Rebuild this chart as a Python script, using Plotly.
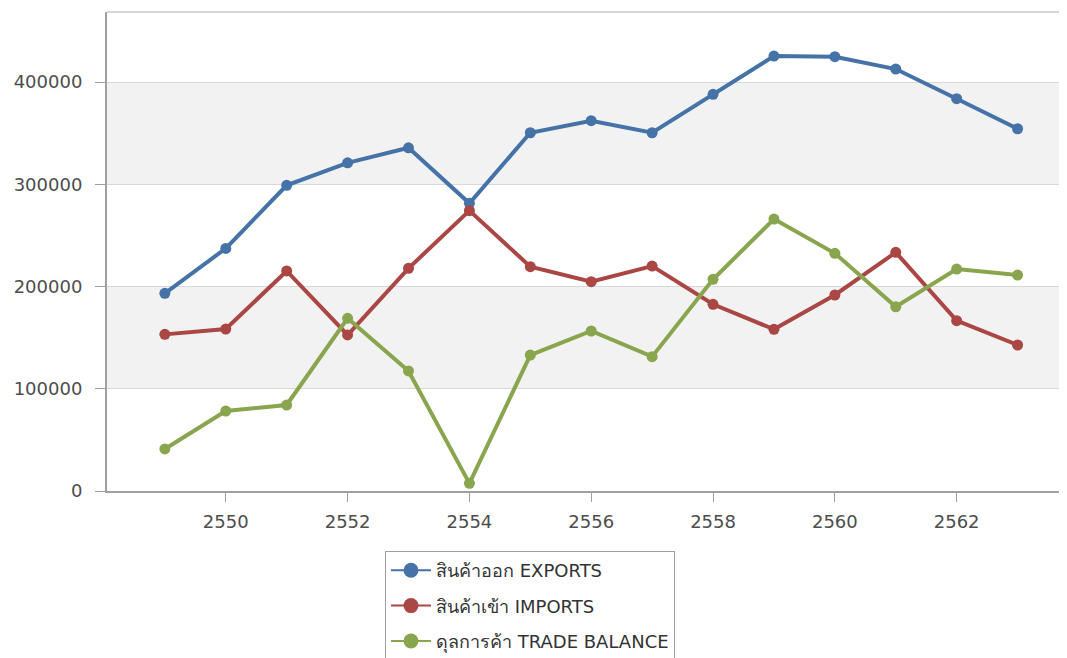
import plotly.graph_objects as go

# Thai trade data (million baht), Buddhist-era years
years = list(range(2549, 2564))
exports = [193300, 237300, 299000, 321000, 335700, 281400, 350400, 362200,
           350400, 388000, 425400, 424800, 412700, 383700, 354300]
imports = [153200, 158400, 215200, 152600, 217800, 274200, 219400, 204700,
           220000, 182600, 158100, 191700, 233400, 166600, 142800]
balance = [41100, 78200, 84100, 168900, 117400, 7500, 133000, 156500,
           131400, 207000, 266000, 232500, 180200, 217100, 211200]

series = [
    ("สินค้าออก EXPORTS", exports, "#4572A7"),
    ("สินค้าเข้า IMPORTS", imports, "#AA4643"),
    ("ดุลการค้า TRADE BALANCE", balance, "#89A54E"),
]

FONT = "Tahoma, DejaVu Sans, Noto Sans, sans-serif"

fig = go.Figure()
for i, (name, vals, color) in enumerate(series):
    fig.add_trace(go.Scatter(
        x=years, y=vals, name=name, mode="lines+markers",
        line=dict(color=color, width=4),
        marker=dict(color=color, size=11),
        showlegend=False,
    ))
    # legend-only twin: thin line with a bigger dot, like the original legend
    fig.add_trace(go.Scatter(
        x=[None], y=[None], name=name, mode="lines+markers",
        line=dict(color=color, width=2),
        marker=dict(color=color, size=15),
        legendgroup=f"g{i}",
    ))

# alternating grey plot bands
for y0, y1 in [(100000, 200000), (300000, 400000)]:
    fig.add_hrect(y0=y0, y1=y1, fillcolor="#F2F2F2", line_width=0, layer="below")
# light line on top of plot area
fig.add_shape(type="line", xref="paper", yref="paper", x0=0, x1=1, y0=1, y1=1,
              line=dict(color="#D8D8D8", width=2))

# page body has an 8px margin; figure runs a little past the window bottom
# so the legend box gets cut off there, as in the original
fig.update_layout(
    width=1051, height=666,
    margin=dict(l=99, r=0, t=4, b=183),
    paper_bgcolor="white", plot_bgcolor="white",
    font=dict(family=FONT, size=18, color="#4D4D4D"),
    showlegend=True,
    legend=dict(
        x=0.292, y=-0.1253, xanchor="left", yanchor="top",
        bgcolor="white", bordercolor="#A0A0A0", borderwidth=1,
        font=dict(size=18, color="#333333"),
        traceorder="grouped", tracegroupgap=9,
        itemwidth=40, itemsizing="trace",
    ),
    xaxis=dict(
        range=[2548.05, 2563.68], tick0=2550, dtick=2,
        showgrid=False, zeroline=False,
        showline=True, linecolor="#A0A0A0", linewidth=2,
        ticks="outside", ticklen=9, tickcolor="#A0A0A0", tickwidth=1,
        ticklabelstandoff=4,
    ),
    yaxis=dict(
        range=[0, 468500], tick0=0, dtick=100000, tickformat="d",
        showgrid=True, gridcolor="#D8D8D8", gridwidth=1, zeroline=False,
        showline=True, linecolor="#A0A0A0", linewidth=2,
        ticks="outside", ticklen=10, tickcolor="#A0A0A0", tickwidth=1,
        ticklabelstandoff=9,
    ),
)

fig.write_html("out.html")
